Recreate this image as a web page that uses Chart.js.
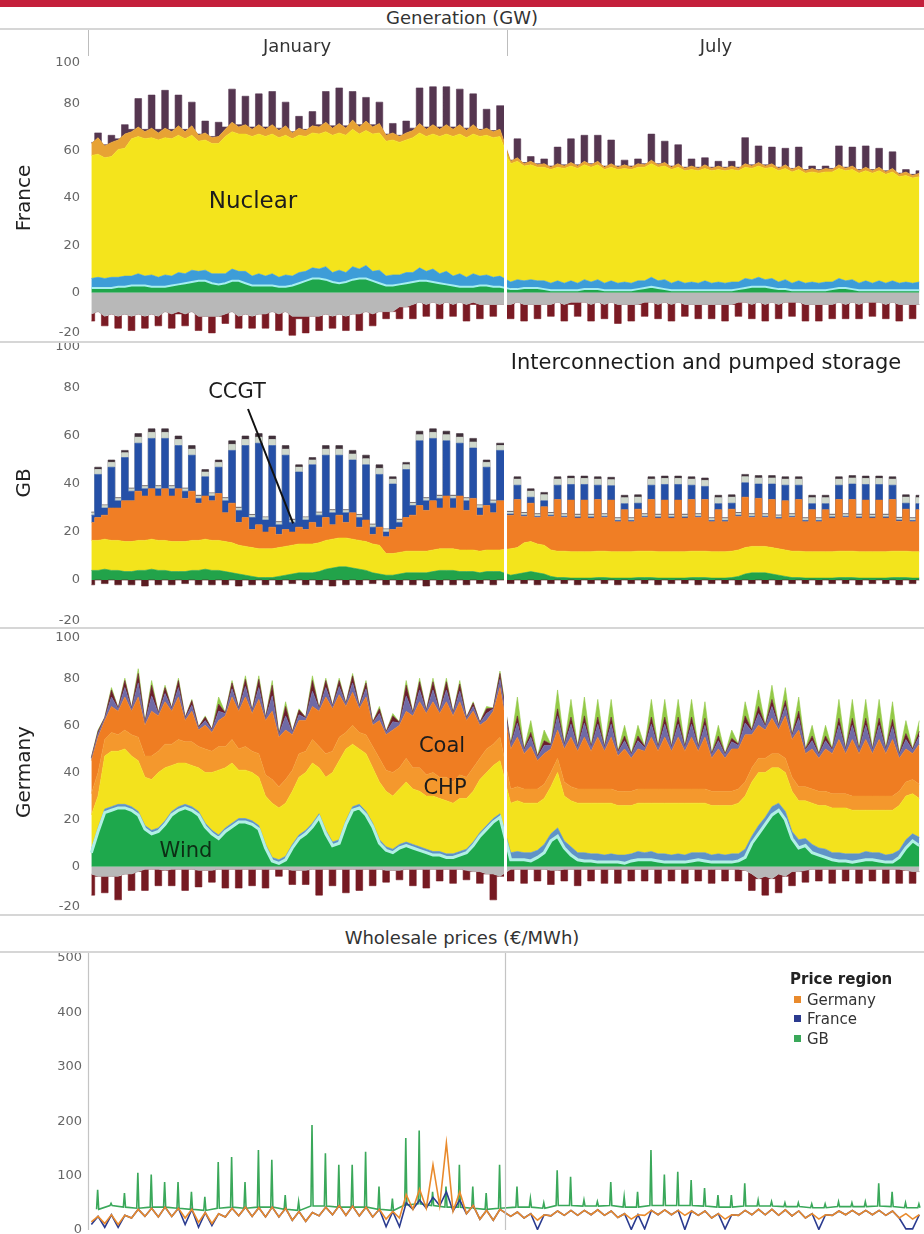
<!DOCTYPE html>
<html>
<head>
<meta charset="utf-8">
<title>Generation and wholesale prices</title>
<script src="https://cdn.jsdelivr.net/npm/chart.js@4.4.1/dist/chart.umd.min.js"></script>
<style>
  html, body { margin: 0; padding: 0; }
  body { width: 924px; height: 1234px; position: relative; overflow: hidden; background: #fff;
         font-family: "DejaVu Sans", sans-serif; color: #333; }
  canvas { position: absolute; left: 0; }
  .bar { position: absolute; left: 0; top: 0; width: 924px; height: 7px; background: #c41f3b; }
  .rule { position: absolute; left: 0; width: 924px; height: 2px; background: #d6d6d6; }
  .vtick { position: absolute; width: 1px; background: #bdbdbd; }
  .head { position: absolute; transform: translate(-50%, -50%); white-space: nowrap; font-size: 18px; color: #333; }
  .country { position: absolute; transform: translate(-50%, -50%) rotate(-90deg); font-size: 20px; color: #222; white-space: nowrap; }
  .note { position: absolute; transform: translate(-50%, -50%); white-space: nowrap; font-size: 21px; color: #1c1c1c; }
  .legend { position: absolute; left: 790px; top: 970px; font-size: 15px; color: #333; line-height: 19.5px; }
  .legend b { display: block; color: #222; margin-bottom: 1px; }
  .legend span { display: inline-block; width: 7px; height: 7px; margin: 0 6px 2px 4px; vertical-align: middle; }
</style>
</head>
<body>
<div class="bar"></div>

<canvas id="france" style="top:46px" width="924" height="302"></canvas>
<canvas id="gb" style="top:330px" width="924" height="306"></canvas>
<canvas id="germany" style="top:621px" width="924" height="301"></canvas>
<canvas id="prices" style="top:948px" width="924" height="286"></canvas>

<div class="head" style="left:462px;top:17px">Generation (GW)</div>
<div class="rule" style="top:28px"></div>
<div class="vtick" style="left:88px;top:30px;height:26px"></div>
<div class="vtick" style="left:507px;top:30px;height:26px"></div>
<div class="head" style="left:297px;top:45px">January</div>
<div class="head" style="left:716px;top:45px">July</div>

<div class="rule" style="top:341px"></div>
<div class="rule" style="top:627px"></div>
<div class="rule" style="top:914px"></div>
<div class="head" style="left:462px;top:937px">Wholesale prices (€/MWh)</div>
<div class="rule" style="top:951px"></div>

<div class="country" style="left:23px;top:198px">France</div>
<div class="country" style="left:23px;top:483px">GB</div>
<div class="country" style="left:23px;top:772px">Germany</div>

<div class="note" style="left:253px;top:200px;font-size:23px">Nuclear</div>
<div class="note" style="left:706px;top:362px">Interconnection and pumped storage</div>
<div class="note" style="left:237px;top:391px">CCGT</div>
<div style="position:absolute;left:248px;top:408px;width:123px;height:2px;background:#111;transform-origin:0 50%;transform:rotate(68.5deg)"></div>
<div class="note" style="left:442px;top:745px">Coal</div>
<div class="note" style="left:445px;top:787px">CHP</div>
<div class="note" style="left:186px;top:850px;color:#0c2e14">Wind</div>

<div class="legend">
  <b>Price region</b>
  <div><span style="background:#e98a2c"></span>Germany</div>
  <div><span style="background:#2b3b8f"></span>France</div>
  <div><span style="background:#3aa85a"></span>GB</div>
</div>

<script>
// ---- time axis: two readings per day (night, day), January then July ----
const JUL_START = 31.3;
const MONTH_SPLIT = 31.15;
const GEN_TICKS = [-20, 0, 20, 40, 60, 80, 100];
const PRICE_TICKS = [0, 100, 200, 300, 400, 500];

// ---- France generation (GW), pairs night/day for each day ----
const frExportJan = [
  -9,-8, -10,-9, -10,-9, -10,-9, -10,-9, -10,-8, -9,-8, -9,-8,
  -10,-10, -10,-10, -9,-8, -10,-9, -10,-9, -9,-8, -9,-8, -10,-10,
  -10,-10, -10,-9, -10,-9, -10,-9, -9,-8, -9,-8, -8,-8, -6,-6,
  -5,-4, -5,-4, -5,-4, -5,-4, -5,-4, -5,-5, -5,-5];
const frPumpJan = [
  -3,0, -4,0, -5,0, -6,0, -5,0, -4,0, -6,-1, -5,0,
  -6,0, -7,0, -4,0, -5,0, -5,0, -6,0, -7,0, -8,-1,
  -7,0, -6,0, -5,0, -6,0, -7,0, -5,0, -3,0, -5,0,
  -6,0, -5,0, -6,0, -5,0, -7,-1, -6,0, -5,0];
const frWindJan = [
  2,2, 2,2, 2.5,2.5, 3,3, 3,2.5, 2.5,2.5, 3,3.5, 4,4.5,
  5,5, 4,3.5, 4,5, 5,4, 3,3, 3,3, 2.5,2.5, 3,4,
  5,6, 6,5.5, 4.5,4, 4.5,5.5, 6,6, 5,4, 3,3, 3.5,4,
  4.5,5, 5,4.5, 4,3.5, 3,2.5, 2.5,2.5, 3,3, 2.5,2.5];
const frHydroJan = [
  4,4.5, 4,4.5, 4,4.5, 4,5, 4,5, 4,5, 4,5, 4,5,
  4,4.5, 4,4.5, 4,5, 4,5, 4,5, 4,5, 4,5, 4,4.5,
  4,4.5, 4,5.5, 4,5.5, 4,5.5, 4,5.5, 4,5.5, 4,4.5, 4,4.5,
  4,5.5, 4,5.5, 4,5.5, 4,5.5, 4,5.5, 4,4.5, 4,4.5];
const frNuclearJan = [
  52,52, 51,51, 54,54, 58,58, 58,58, 58,58, 58,58, 57,57,
  55,55, 55,55, 58,58, 58,58, 59,59, 59,59, 59,59, 58,58,
  57,57, 57,57, 58,58, 58,58, 57,57, 58,58, 57,57, 56,56,
  57,57, 57,57, 58,58, 59,59, 59,59, 59,59, 59,59];
const frGasJan = [
  5,7, 5,6, 4,6, 3,4, 3,4, 3,4, 3,4, 3,4,
  2.5,3, 2.5,3, 3,4, 3,4, 3,4, 3,4, 3,4, 2.5,3,
  2.5,3, 3,4, 3,4, 3,4, 3,4, 3,4, 2.5,3, 2.5,3,
  3,4, 3,4, 3,4, 3,4, 3,4, 2.5,3, 2.5,3];
const frPeakJan = [
  0.5,2, 0.5,3, 0.5,4, 1,12, 1,14, 1.5,16, 1,13, 1,10,
  0.5,5, 0.5,6, 1,14, 1,12, 1,13, 1,14, 1,10, 0.5,5,
  0.5,6, 1,13, 1,15, 1,12, 1,10, 1,9, 0.5,4, 0.5,5,
  1,15, 1,16, 1,16, 1,15, 1,13, 0.5,8, 0.5,10];

const frExportJul = [
  -5,-4, -5,-5, -5,-5, -5,-4, -5,-4, -4,-4, -5,-4, -5,-4,
  -5,-5, -5,-5, -4,-4, -5,-4, -5,-4, -5,-5, -5,-5, -5,-5,
  -5,-5, -4,-4, -5,-4, -5,-4, -5,-4, -4,-4, -5,-5, -5,-5,
  -5,-4, -5,-4, -5,-4, -4,-4, -5,-4, -5,-5, -5,-5];
const frPumpJul = [
  -6,0, -7,0, -6,0, -5,0, -7,-1, -6,0, -7,0, -6,0,
  -8,0, -7,0, -6,0, -6,0, -7,0, -5,0, -6,0, -6,0,
  -7,0, -6,0, -6,0, -7,0, -6,0, -6,0, -7,0, -7,0,
  -6,0, -6,0, -6,0, -6,0, -6,0, -7,0, -6,0];
const frWindJul = [
  1.5,1.5, 2,2, 2,1.5, 1,1, 1,1, 1,1.5, 1.5,1.5, 1,1,
  1,1, 1,1.5, 2,2.5, 2,1.5, 1,1, 1,1, 1,1, 1,1,
  1,1, 1.5,2, 2.5,2.5, 2.5,2, 1.5,1.5, 1,1, 1,1, 1,1,
  1.5,2, 2,1.5, 1,1, 1,1, 1,1, 1,1, 1,1];
const frHydroJul = [
  3,4, 3,3.5, 3,3.5, 3,4, 3,4, 3,4, 3,4, 3,4,
  3,3.5, 3,3.5, 3,4, 3,4, 3,4, 3,3.5, 3,4, 3,3.5,
  3,3.5, 3,4, 3,4, 3,4, 3,4, 3,4, 3,3.5, 3,3.5,
  3,4, 3,4, 3,4, 3,4, 3,4, 3,3.5, 3,3.5];
const frNuclearJul = [
  50,50, 48.5,48.5, 48,48, 48,48, 48.5,48.5, 48.5,48.5, 48.5,48.5, 48,48,
  48,48, 48,48, 48,48, 48,48, 48,48, 47.5,47.5, 47.5,47.5, 47.5,47.5,
  47.5,47.5, 47,47, 47,47, 47,47, 47,47, 47,47, 46.5,46.5, 46.5,46.5,
  46.5,46.5, 46.5,46.5, 46.5,46.5, 46.5,46.5, 46,46, 45,45, 44.5,44.5];
const frGasJul = [
  1,1.5, 1,1.5, 1,1.5, 1,1.5, 1,1.5, 1,1.5, 1,1.5, 1,1.5,
  1,1.5, 1,1.5, 1,1.5, 1,1.5, 1,1.5, 1,1.5, 1,1.5, 1,1.5,
  1,1.5, 1,1.5, 1,1.5, 1,1.5, 1,1.5, 1,1.5, 1,1.5, 1,1.5,
  1,1.5, 1,1.5, 1,1.5, 1,1.5, 1,1.5, 1,1.5, 1,1.5];
const frPeakJul = [
  0.5,8, 0.5,2, 0.5,2, 0.5,7, 0.5,10, 0.5,11, 0.5,11, 0.5,10,
  0.5,2, 0.5,2, 0.5,11, 0.5,9, 0.5,8, 0.5,3, 0.5,3, 0.5,2,
  0.5,2, 0.5,11, 0.5,7, 0.5,7, 0.5,7, 0.5,8, 0.5,1, 0.5,1,
  0.5,8, 0.5,8, 0.5,9, 0.5,8, 0.5,7, 0.5,1, 0.5,1];

// ---- GB generation (GW) ----
const gbPumpJan = [
  -2,0, -1.5,0, -2,0, -2,0, -2.5,0, -2,0, -2,0, -1.5,0,
  -2,0, -2,0, -2,0, -2.5,0, -2,0, -2,0, -2,0, -1.5,0,
  -2,0, -2,0, -2.5,0, -2,0, -2,0, -1.5,0, -2,0, -2,0,
  -2,0, -2.5,0, -2,0, -2,0, -2,0, -1.5,0, -2,0];
const gbWindJan = [
  4,4, 4.5,4, 4,3.5, 3.5,4, 4,4.5, 4,4, 3.5,3.5, 3.5,4,
  4,4.5, 4,4, 3.5,3, 2.5,2, 1.5,1, 1,1, 1.5,2, 2.5,3,
  3,3, 3.5,4.5, 5,5.5, 5.5,5, 4.5,4, 3,2.5, 2,2, 2.5,3,
  3,3, 3,3.5, 4,4, 4,3.5, 3.5,3.5, 3,3.5, 3.5,3.5];
const gbNuclearJan = [
  12.5,12.5, 12.5,12.5, 12.5,12.5, 12.5,12.5, 12.5,12.5, 12.5,12.5, 12.5,12.5, 12.5,12.5,
  12.5,12.5, 12.5,12.5, 12.5,12.5, 12,12, 12,12, 12,12, 12,12, 12,12,
  12,12, 12,12, 12,12, 12,12, 12,12, 12,12, 9,9, 9,9,
  9,9, 9,9, 9,9, 9,9, 9,9, 9,9, 9,9];
const gbCoalJan = [
  7.5,9.5, 10,13.5, 13.5,17, 17,20.5, 18.5,21, 18.5,21.5, 19,22, 18,20.5,
  15.5,18, 16.5,19.5, 12,16.5, 9.5,12, 7.5,10, 7,9, 5.5,7, 5.5,7,
  6,9, 6.5,9.5, 6,9.5, 6.5,11, 5.5,9, 4,7.5, 7,10, 10.5,14,
  15,19, 17,20.5, 17,22, 17,22.5, 16.5,21.5, 15,18.5, 15.5,20.5];
const gbCcgtJan = [
  3,18, 3,17, 3,18, 4,20, 3,21, 3,21, 3,18, 3,15,
  2,8, 2,11, 5,22, 5,30, 5,34, 5,34, 4,31, 4,23,
  4,24, 5,26, 5,25, 4,22, 4,23, 3,22, 2,19, 2,20,
  4,27, 4,26, 4,23, 4,22, 4,21, 3,16, 4,21];
const gbInterJan = [
  1,2, 1,2, 1,2, 1,2.5, 1,2.5, 1,2.5, 1,2.5, 1,2.5,
  1,2, 1,2, 1,2.5, 1,2.5, 1,2.5, 1,2.5, 1,2.5, 1,2,
  1,2, 1,2.5, 1,2.5, 1,2.5, 1,2.5, 1,2.5, 1,2, 1,2,
  1,2.5, 1,2.5, 1,2.5, 1,2.5, 1,2.5, 1,2, 1,2];
const gbStorageJan = [
  0.3,1, 0.3,1, 0.3,1, 0.3,1.5, 0.3,1.5, 0.3,1.5, 0.3,1.5, 0.3,1.5,
  0.3,1, 0.3,1, 0.3,1.5, 0.3,1.5, 0.3,1.5, 0.3,1.5, 0.3,1.5, 0.3,1,
  0.3,1, 0.3,1.5, 0.3,1.5, 0.3,1.5, 0.3,1.5, 0.3,1.5, 0.3,1, 0.3,1,
  0.3,1.5, 0.3,1.5, 0.3,1.5, 0.3,1.5, 0.3,1.5, 0.3,1, 0.3,1];

const gbPumpJul = [
  -1.5,0, -1.5,0, -2,0, -1.5,0, -1.5,0, -2,0, -1.5,0, -1.5,0,
  -2,0, -1.5,0, -1.5,0, -2,0, -1.5,0, -1.5,0, -2,0, -1.5,0,
  -1.5,0, -2,0, -1.5,0, -1.5,0, -2,0, -1.5,0, -1.5,0, -2,0,
  -1.5,0, -1.5,0, -2,0, -1.5,0, -1.5,0, -2,0, -1.5,0];
const gbWindJul = [
  2,2.5, 3,3.5, 3,2.5, 1.5,1, 1,0.8, 0.8,0.8, 0.8,1, 1,0.8,
  0.8,0.8, 0.8,1, 1,1, 0.8,0.8, 0.8,0.8, 0.8,1, 1,1, 0.8,0.8,
  0.8,1, 1.5,2.5, 3,3, 3,2.5, 2,1.5, 1,1, 0.8,0.8, 0.8,0.8,
  0.8,1, 1,1, 0.8,0.8, 0.8,0.8, 0.8,1, 1,1, 0.8,0.8];
const gbNuclearJul = [
  11,11, 12.5,12.5, 12,12, 11,11, 11,11, 11,11, 11,11, 11,11,
  11,11, 11,11, 11,11, 11,11, 11,11, 11,11, 11,11, 11,11,
  11,11, 11,11, 11,11, 11,11, 11,11, 11,11, 11,11, 11,11,
  11,11, 11,11, 11,11, 11,11, 11,11, 11,11, 11,11];
const gbCoalJul = [
  14,20, 11,16, 11,16, 14,21.5, 14,21.5, 14,21.5, 14,21.5, 14,21.5,
  12.5,17.5, 12.5,17.5, 14,21.5, 14,21.5, 14,21.5, 14,21.5, 14,21.5, 12.5,17.5,
  12.5,17.5, 14,21, 12,20, 12,20, 12.5,20.5, 14,21.5, 12.5,17.5, 12.5,17.5,
  14,21.5, 14,21.5, 14,21.5, 14,21.5, 14,21.5, 12.5,17.5, 12.5,17.5];
const gbCcgtJul = [
  0.5,6, 0.5,2.5, 0.5,2.5, 0.5,6, 0.5,6.5, 0.5,6.5, 0.5,6, 0.5,6,
  0.5,2.5, 0.5,2.5, 0.5,6, 0.5,6.5, 0.5,6.5, 0.5,6, 0.5,5.5, 0.5,2.5,
  0.5,2.5, 0.5,6, 0.5,6, 0.5,6.5, 0.5,6.5, 0.5,6, 0.5,2.5, 0.5,2.5,
  0.5,6, 0.5,6.5, 0.5,6.5, 0.5,6.5, 0.5,6, 0.5,2.5, 0.5,2.5];
const gbInterJul = [
  0.8,2.5, 0.8,2.5, 0.8,2.5, 0.8,2.5, 0.8,2.5, 0.8,2.5, 0.8,2.5, 0.8,2.5,
  0.8,2.5, 0.8,2.5, 0.8,2.5, 0.8,2.5, 0.8,2.5, 0.8,2.5, 0.8,2.5, 0.8,2.5,
  0.8,2.5, 0.8,2.5, 0.8,2.5, 0.8,2.5, 0.8,2.5, 0.8,2.5, 0.8,2.5, 0.8,2.5,
  0.8,2.5, 0.8,2.5, 0.8,2.5, 0.8,2.5, 0.8,2.5, 0.8,2.5, 0.8,2.5];
const gbStorageJul = [
  0.3,1, 0.3,1, 0.3,1, 0.3,1, 0.3,1, 0.3,1, 0.3,1, 0.3,1,
  0.3,1, 0.3,1, 0.3,1, 0.3,1, 0.3,1, 0.3,1, 0.3,1, 0.3,1,
  0.3,1, 0.3,1, 0.3,1, 0.3,1, 0.3,1, 0.3,1, 0.3,1, 0.3,1,
  0.3,1, 0.3,1, 0.3,1, 0.3,1, 0.3,1, 0.3,1, 0.3,1];

// ---- Germany generation (GW) ----
const deExportJan = [
  -3,-4, -4,-4, -4,-3, -3,-2, -1,-1, -1,-1.5, -1,-1, -1,-1,
  -1.5,-1.5, -1.5,-1, -1,-1, -1,-1, -1,-1, -1,-1, -1,-1, -1.5,-1.5,
  -1.5,-1, -1,-1, -1,-1, -1,-1, -1,-1, -1,-1, -1.5,-1.5, -1.5,-1,
  -1,-1, -1,-1, -1,-1, -1,-1, -1.5,-2, -2,-3, -3,-4];
const dePumpJan = [
  -9,0, -7,0, -10,0, -7,0, -9,0, -7,0, -7,0, -9,0,
  -7,0, -5,0, -8,0, -8,0, -7,0, -8,0, -3,0, -6,0,
  -6,0, -11,0, -7,0, -10,0, -9,0, -7,0, -5,0, -4,0,
  -7,0, -8,0, -5,0, -6,0, -4,0, -5,0, -11,0];
const deWindJan = [
  6,15, 23,24, 25,25, 24,22, 16,14, 15,18, 22,24, 25,24,
  22,17, 14,12, 15,17, 19,19, 18,16, 8,2.5, 1.5,3, 8,12,
  14,17, 21,14, 9,10, 18,24, 25,22, 17,10, 7,6, 8,9,
  8,7, 6,5, 5,4, 4,5, 6,9, 13,16, 19,21];
const deHydroJan = [
  1.5,1.5, 1.5,1.5, 1.5,1.5, 1.5,1.5, 1.5,1.5, 1.5,1.5, 1.5,1.5, 1.5,1.5,
  1.5,1.5, 1.5,1.5, 1.5,1.5, 1.5,1.5, 1.5,1.5, 1.5,1.5, 1.5,1.5, 1.5,1.5,
  1.5,1.5, 1.5,1.5, 1.5,1.5, 1.5,1.5, 1.5,1.5, 1.5,1.5, 1.5,1.5, 1.5,1.5,
  1.5,1.5, 1.5,1.5, 1.5,1.5, 1.5,1.5, 1.5,1.5, 1.5,1.5, 1.5,1.5];
const deBaseJan = [
  14.5,13.5, 22.5,23.5, 22.5,23.5, 21.5,21.5, 20.5,21.5, 23.5,22.5, 19.5,18.5, 17.5,17.5,
  18.5,21.5, 24.5,27.5, 25.5,25.5, 20.5,20.5, 20.5,20.5, 20.5,23, 22,22.5, 22.5,24.5,
  24.5,25.5, 19.5,22.5, 29.5,33.5, 30.5,26.5, 23.5,24.5, 23.5,24.5, 23.5,22.5, 23.5,25.5,
  23.5,23.5, 22.5,23.5, 22.5,22.5, 21.5,22.5, 21.5,21.5, 22.5,22.5, 22.5,22.5];
const deChpJan = [
  9,10, 7,8, 7,8, 9,10, 9,10, 9,10, 9,10, 9,10,
  9,10, 9,10, 9,10, 9,10, 9,10, 9,10, 9,10, 9,10,
  9,10, 9,10, 9,10, 7,8, 7,8, 9,10, 9,10, 9,10,
  9,10, 9,10, 9,10, 9,10, 9,10, 9,10, 9,10];
const deCoalJan = [
  14,15, 8,11, 10,14, 10,17, 13,19, 15,18, 14,18, 9,13,
  7,10, 8,11, 13,18, 16,21, 16,23, 23,29, 21,21, 15,14,
  13,14, 15,24, 18,18, 11,14, 10,16, 9,16, 15,18, 18,20,
  22,28, 26,30, 27,32, 28,31, 24,24, 14,12, 14,21];
const deGasJan = [
  1,1.5, 1,4, 1,4, 1,6, 1,6.5, 1,3.5, 1,4, 1,2.5,
  1,2, 1,4, 1,3.5, 1,4.5, 1,5, 1,6.5, 1,6, 1,2.5,
  1,6.5, 1,4, 1,3.5, 1,4, 1,3.5, 1,3, 1,3.5, 1,6.5,
  1,5, 1,5, 1,5, 1,4.5, 1,2, 1,3, 1,3.5];
const dePeakJan = [
  0.3,1, 0.3,3, 0.3,3, 0.3,4, 0.3,4.5, 0.3,2.5, 0.3,3, 0.3,2,
  0.3,1.5, 0.3,3, 0.3,2.5, 0.3,3, 0.3,3.5, 0.3,4.5, 0.3,4, 0.3,2,
  0.3,4.5, 0.3,3, 0.3,2.5, 0.3,3, 0.3,2.5, 0.3,2, 0.3,2.5, 0.3,4.5,
  0.3,3.5, 0.3,3.5, 0.3,3.5, 0.3,3, 0.3,1.5, 0.3,2, 0.3,2.5];
const deSolarJan = [
  0,0.5, 0,1, 0,1, 0,2, 0,2, 0,1, 0,1, 0,0.5,
  0,0.5, 0,3, 0,1, 0,1.5, 0,1.5, 0,2, 0,2, 0,0.5,
  0,2, 0,1, 0,1, 0,1, 0,1, 0,1, 0,1, 0,2,
  0,1.5, 0,1.5, 0,1.5, 0,1.5, 0,0.5, 0,1, 0,1];

const deExportJul = [
  -1,-1, -1,-1, -1,-1, -1.5,-1.5, -1,-1, -1,-1, -1,-1, -1,-1,
  -1,-1, -1,-1, -1,-1, -1,-1, -1,-1, -1,-1, -1,-1, -1,-1,
  -1,-1, -1,-1.5, -3,-5, -4,-5, -3,-4, -2,-2, -1.5,-1, -1,-1,
  -1,-1, -1,-1, -1,-1, -1,-1, -1,-1, -1,-1.5, -2,-2];
const dePumpJul = [
  -5,0, -6,0, -5,0, -6,0, -5,0, -7,0, -5,0, -6,0,
  -6,0, -5,0, -5,0, -6,0, -5,0, -6,0, -5,0, -6,0,
  -5,0, -5,0, -7,0, -8,0, -8,0, -6,0, -5,0, -5,0,
  -6,0, -5,0, -6,0, -5,0, -6,0, -6,0, -5,0];
const deWindJul = [
  3,3, 3,2.5, 4,6, 11,13, 8,5, 3,2.5, 2.5,2, 2,2,
  2,1.5, 2.5,3, 3,3, 2.5,2, 2,2, 2,2.5, 3,2.5, 2,2,
  2,2, 2.5,4, 10,14, 18,22, 24,20, 12,8, 9,6, 5,4,
  3,2.5, 2.5,2, 2.5,3, 3,2.5, 2,2, 4,8, 11,9];
const deHydroJul = [
  3,3.5, 3,3.5, 3,3.5, 3,3.5, 3,3.5, 3,3.5, 3,3.5, 3,3.5,
  3,3.5, 3,3.5, 3,3.5, 3,3.5, 3,3.5, 3,3.5, 3,3.5, 3,3.5,
  3,3.5, 3,3.5, 3,3.5, 3,3.5, 3,3.5, 3,3.5, 3,3.5, 3,3.5,
  3,3.5, 3,3.5, 3,3.5, 3,3.5, 3,3.5, 3,3.5, 3,3.5];
const deBaseJul = [
  21,21.5, 21,21, 20,19.5, 20,23.5, 19,19.5, 21,21, 21.5,21.5, 22,21.5,
  21,21, 20.5,20.5, 21,20.5, 21.5,21.5, 22,21.5, 22,21, 21,21, 21,20.5,
  21,20.5, 21.5,22.5, 23,22.5, 19,16.5, 15,16.5, 17,16.5, 16,17.5, 18,18.5,
  19,19, 19.5,18.5, 18.5,17.5, 18,18, 19,18.5, 19,18.5, 17,16.5];
const deChpJul = [
  6,6, 6,6, 6,6, 6,6, 6,6, 6,6, 6,6, 6,6,
  6,6, 6,6, 6,6, 6,6, 6,6, 6,6, 6,6, 6,6,
  6,6, 6,6, 6,6, 6,6, 6,6, 6,6, 6,6, 6,6,
  6,6, 6,6, 6,6, 6,6, 6,6, 6,6, 6,6];
const deCoalJul = [
  17,21, 15,18, 12,13, 10,12, 14,21, 16,22, 16,22, 16,22,
  15,18, 14,17, 16,22, 16,22, 16,22, 16,22, 16,22, 14,18,
  14,18, 17,20, 14,14, 12,15, 10,18, 16,24, 14,17, 14,18,
  17,23, 17,24, 18,24, 18,24, 18,24, 14,14, 11,17];
const deGasJul = [
  1.5,6, 1.5,4, 1.5,3.5, 1.5,6, 1.5,5.5, 1.5,6, 1.5,5.5, 1.5,5.5,
  1.5,3.5, 1.5,3.5, 1.5,5.5, 1.5,5.5, 1.5,5.5, 1.5,5.5, 1.5,5, 1.5,3.5,
  1.5,3, 1.5,5, 1.5,5, 1.5,5, 1.5,4, 1.5,5, 1.5,3.5, 1.5,3.5,
  1.5,6, 1.5,6, 1.5,6, 1.5,6, 1.5,5.5, 1.5,4, 1.5,3.5];
const dePeakJul = [
  0.5,3, 0.5,2, 0.5,2, 0.5,3, 0.5,3, 0.5,3, 0.5,3, 0.5,3,
  0.5,2, 0.5,2, 0.5,3, 0.5,3, 0.5,3, 0.5,3, 0.5,3, 0.5,2,
  0.5,1.5, 0.5,3, 0.5,3, 0.5,3, 0.5,2.5, 0.5,3, 0.5,2, 0.5,2,
  0.5,3, 0.5,3, 0.5,3, 0.5,3, 0.5,3, 0.5,2.5, 0.5,2];
const deSolarJul = [
  0,8, 0,5, 0,4.5, 0,8, 0,7.5, 0,8, 0,7.5, 0,7.5,
  0,4.5, 0,4.5, 0,7.5, 0,7.5, 0,7.5, 0,7.5, 0,7, 0,4.5,
  0,3.5, 0,6, 0,7, 0,6, 0,5.5, 0,6, 0,4.5, 0,4.5,
  0,8, 0,8, 0,8, 0,8, 0,7.5, 0,5.5, 0,4.5];

// ---- wholesale prices (EUR/MWh) ----
const dePriceJan = [
  15,25, 12,28, 10,27, 22,38, 25,40, 24,42, 25,40, 22,38,
  14,32, 12,30, 24,40, 26,42, 25,41, 24,42, 24,40, 18,34,
  16,32, 26,42, 28,45, 27,44, 26,42, 24,38, 20,34, 22,65,
  38,75, 40,120, 45,160, 35,70, 30,45, 20,36, 18,38];
const frPriceJan = [
  10,25, 5,28, 5,27, 22,38, 25,40, 24,42, 25,40, 10,38,
  5,32, 8,30, 24,40, 26,42, 25,41, 24,42, 24,40, 18,34,
  16,32, 26,42, 28,45, 27,44, 26,42, 24,38, 6,34, 6,50,
  38,55, 40,60, 45,70, 35,55, 30,45, 20,36, 18,38];
const dePriceJul = [
  25,33, 22,30, 18,28, 26,35, 27,36, 27,36, 28,37, 27,35,
  23,30, 20,28, 27,36, 28,37, 28,36, 27,35, 27,35, 22,30,
  20,28, 27,36, 28,38, 28,38, 27,37, 26,35, 22,30, 20,28,
  27,35, 28,36, 28,36, 28,36, 27,35, 22,30, 20,28];
const frPriceJul = [
  25,33, 22,30, 1,28, 26,35, 27,36, 27,36, 28,37, 27,35,
  23,30, 1,28, 2,36, 28,37, 28,36, 1,35, 27,35, 22,30,
  2,28, 27,36, 28,38, 28,38, 27,37, 26,35, 22,30, 1,28,
  27,35, 28,36, 28,36, 28,36, 27,35, 22,2, 2,28];
// GB: daily base level and evening spike
const gbPriceBaseJan = [38,45,42,40,42,42,40,38,36,40,42,40,42,42,38,36,44,44,42,42,42,38,36,46,48,45,42,42,40,38,40];
const gbPriceSpikeJan = [74,49,68,105,102,88,88,70,61,125,134,88,147,129,64,52,193,141,120,120,144,80,58,169,183,70,80,120,80,68,120];
const gbPriceBaseJul = [42,42,40,45,45,44,44,45,42,42,45,45,45,45,44,42,42,44,44,44,43,43,41,41,43,43,43,44,43,41,41];
const gbPriceSpikeJul = [80,58,50,110,98,55,52,88,61,70,147,102,107,92,77,64,64,86,55,52,50,50,48,48,52,50,52,86,70,50,48];
const SPIKE_AT = [0.64, 0.72, 0.80];

// ---- helpers ----
const janT = [], julT = [];
for (let d = 0; d < 31; d++) {
  janT.push(d + 0.25, d + 0.75);
  julT.push(JUL_START + d + 0.25, JUL_START + d + 0.75);
}

function series(jan, jul) {
  return jan.map((v, i) => ({ x: janT[i], y: v }))
    .concat(jul.map((v, i) => ({ x: julT[i], y: v })));
}

function spikes(baseJan, peakJan, baseJul, peakJul) {
  const out = [];
  [[0, baseJan, peakJan], [JUL_START, baseJul, peakJul]].forEach(([off, base, peak]) => {
    base.forEach((b, d) => {
      out.push({ x: off + d + SPIKE_AT[0], y: b },
               { x: off + d + SPIKE_AT[1], y: peak[d] },
               { x: off + d + SPIKE_AT[2], y: b });
    });
  });
  return out;
}

function layer(label, jan, jul, color, extra) {
  return Object.assign({
    label: label, data: series(jan, jul),
    backgroundColor: color, borderColor: color, borderWidth: 0.6,
    pointRadius: 0, tension: 0, fill: '-1', stack: 'pos'
  }, extra || {});
}

// y labels drawn from the scale, with the end labels tucked inside like the original
const tickLabels = {
  id: 'tickLabels',
  afterDraw(chart, args, opts) {
    const y = chart.scales.y, ctx = chart.ctx;
    ctx.save();
    ctx.font = opts.font;
    ctx.fillStyle = opts.color;
    ctx.textAlign = 'right';
    ctx.textBaseline = 'middle';
    opts.values.forEach(v => {
      let py = y.getPixelForValue(v);
      if (v === y.max) py += opts.nudge;
      if (v === y.min) py -= opts.nudge;
      ctx.fillText(String(v), chart.chartArea.left - opts.pad, py);
    });
    ctx.restore();
  }
};

const monthLine = {
  id: 'monthLine',
  afterDatasetsDraw(chart, args, opts) {
    const ctx = chart.ctx, area = chart.chartArea;
    ctx.save();
    ctx.strokeStyle = opts.color;
    ctx.lineWidth = opts.width;
    opts.at.forEach(t => {
      const x = Math.round(chart.scales.x.getPixelForValue(t)) + 0.5;
      ctx.beginPath();
      ctx.moveTo(x, area.top - opts.extend);
      ctx.lineTo(x, area.bottom);
      ctx.stroke();
    });
    ctx.restore();
  }
};

function stackedChart(id, datasets) {
  return new Chart(document.getElementById(id), {
    type: 'line',
    data: { datasets: datasets },
    options: {
      responsive: false, animation: false, devicePixelRatio: 1,
      layout: { padding: { top: 10, bottom: 8, left: 0, right: 0 } },
      plugins: {
        legend: { display: false }, tooltip: { enabled: false },
        tickLabels: { values: GEN_TICKS, nudge: 7, pad: 8, font: '13px "DejaVu Sans"', color: '#666' },
        monthLine: { at: [MONTH_SPLIT], color: '#ffffff', width: 3, extend: 0 }
      },
      scales: {
        x: { type: 'linear', min: 0, max: 62.4, display: false },
        y: { stacked: true, min: -20, max: 100,
             grid: { display: false }, border: { display: false }, ticks: { display: false },
             afterFit: s => { s.width = 88; } }
      }
    },
    plugins: [tickLabels, monthLine]
  });
}

const STEP = { stepped: 'middle' };

stackedChart('france', [
  layer('Exports', frExportJan, frExportJul, '#b8b8b8', { stack: 'neg', fill: 'origin' }),
  layer('Pumping', frPumpJan, frPumpJul, '#7a1b24', Object.assign({ stack: 'neg' }, STEP)),
  layer('Wind', frWindJan, frWindJul, '#1fa64b', { fill: 'origin', borderColor: '#a6eef0', borderWidth: 2 }),
  layer('Hydro', frHydroJan, frHydroJul, '#3d9dd8'),
  layer('Nuclear', frNuclearJan, frNuclearJul, '#f4e41c'),
  layer('Fossil', frGasJan, frGasJul, '#e7a234'),
  layer('Peaking', frPeakJan, frPeakJul, '#553650', STEP)
]);

stackedChart('gb', [
  layer('Pumping', gbPumpJan, gbPumpJul, '#5a1c22', Object.assign({ stack: 'neg', fill: 'origin' }, STEP)),
  layer('Wind', gbWindJan, gbWindJul, '#22a34a', { fill: 'origin' }),
  layer('Nuclear', gbNuclearJan, gbNuclearJul, '#f3e41c'),
  layer('Coal', gbCoalJan, gbCoalJul, '#f07e25', STEP),
  layer('CCGT', gbCcgtJan, gbCcgtJul, '#2550a7', STEP),
  layer('Interconnection', gbInterJan, gbInterJul, '#cfd8cc', STEP),
  layer('Pumped storage', gbStorageJan, gbStorageJul, '#40303a', STEP)
]);

stackedChart('germany', [
  layer('Exports', deExportJan, deExportJul, '#b8b8b8', { stack: 'neg', fill: 'origin' }),
  layer('Pumping', dePumpJan, dePumpJul, '#761a22', Object.assign({ stack: 'neg' }, STEP)),
  layer('Wind', deWindJan, deWindJul, '#1ea84c', { fill: 'origin', borderColor: '#b2f0e4', borderWidth: 3 }),
  layer('Hydro', deHydroJan, deHydroJul, '#5f93c6'),
  layer('Lignite and nuclear', deBaseJan, deBaseJul, '#f3e21d'),
  layer('CHP', deChpJan, deChpJul, '#f4982d'),
  layer('Coal', deCoalJan, deCoalJul, '#ef7d22'),
  layer('Gas', deGasJan, deGasJul, '#6f6aa6'),
  layer('Pumped storage', dePeakJan, dePeakJul, '#6a1e2a'),
  layer('Solar', deSolarJan, deSolarJul, '#93c947')
]);

new Chart(document.getElementById('prices'), {
  type: 'line',
  data: {
    datasets: [
      { label: 'Germany', data: series(dePriceJan, dePriceJul), borderColor: '#e98a2c', borderWidth: 1.6, pointRadius: 0, tension: 0 },
      { label: 'France', data: series(frPriceJan, frPriceJul), borderColor: '#2b3b8f', borderWidth: 1.6, pointRadius: 0, tension: 0 },
      { label: 'GB', data: spikes(gbPriceBaseJan, gbPriceSpikeJan, gbPriceBaseJul, gbPriceSpikeJul), borderColor: '#3aa85a', borderWidth: 1.6, pointRadius: 0, tension: 0 }
    ]
  },
  options: {
    responsive: false, animation: false, devicePixelRatio: 1,
    layout: { padding: { top: 10, bottom: 4, left: 0, right: 0 } },
    plugins: {
      legend: { display: false }, tooltip: { enabled: false },
      tickLabels: { values: PRICE_TICKS, nudge: 0, pad: 6, font: '13px "DejaVu Sans"', color: '#666' },
      monthLine: { at: [0, MONTH_SPLIT], color: '#c4c4c4', width: 1.2, extend: 6 }
    },
    scales: {
      x: { type: 'linear', min: 0, max: 62.4, display: false },
      y: { min: 0, max: 500, grid: { display: false }, border: { display: false }, ticks: { display: false },
           afterFit: s => { s.width = 88; } }
    }
  },
  plugins: [tickLabels, monthLine]
});
</script>
</body>
</html>
